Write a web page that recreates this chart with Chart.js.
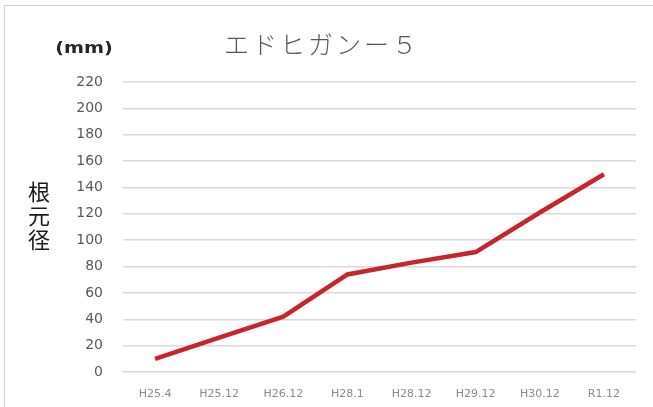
<!DOCTYPE html>
<html>
<head>
<meta charset="utf-8">
<script src="https://cdn.jsdelivr.net/npm/chart.js@4/dist/chart.umd.min.js"></script>
<style>
  html, body { margin: 0; padding: 0; background: #fff; }
  #wrap { width: 653px; height: 407px; position: relative; }
</style>
</head>
<body>
<div id="wrap"><canvas id="c" width="653" height="407"></canvas></div>
<script>
// 根元径の推移（エドヒガン No.5）
const categories = ['H25.4', 'H25.12', 'H26.12', 'H28.1', 'H28.12', 'H29.12', 'H30.12', 'R1.12'];
const diameters = [10, 26, 42, 74, 83, 91, 121, 150];
const yTicks = [0, 20, 40, 60, 80, 100, 120, 140, 160, 180, 200, 220];

const titleText = 'エドヒガンー５';
const unitText = '(mm)';
const axisText = ['根', '元', '径'];

// frame and headings drawn on the canvas
const decor = {
  id: 'decor',
  beforeDraw(chart) {
    const ctx = chart.ctx;
    ctx.save();
    ctx.strokeStyle = '#d0d0d0';
    ctx.lineWidth = 1;
    ctx.beginPath();
    ctx.moveTo(4.5, 407);
    ctx.lineTo(4.5, 5.5);
    ctx.lineTo(653, 5.5);
    ctx.stroke();
    ctx.restore();
  },
  afterDraw(chart) {
    const ctx = chart.ctx;
    ctx.save();
    ctx.textBaseline = 'middle';
    ctx.textAlign = 'center';
    ctx.fillStyle = '#5a5a5a';
    ctx.font = '300 25px "Noto Sans CJK JP"';
    ctx.letterSpacing = '3px';
    ctx.fillText(titleText, 322, 44);
    ctx.letterSpacing = '0px';
    ctx.fillStyle = '#262626';
    ctx.font = 'bold 16px "DejaVu Sans", sans-serif';
    ctx.save();
    ctx.translate(84, 49);
    ctx.scale(1.2, 1);
    ctx.fillText(unitText, 0, 0);
    ctx.restore();
    ctx.fillStyle = '#1a1a1a';
    ctx.font = '22px "Noto Sans CJK JP"';
    axisText.forEach((ch, i) => ctx.fillText(ch, 39, 192 + i * 24));
    ctx.restore();
  }
};

new Chart(document.getElementById('c'), {
  type: 'line',
  data: {
    labels: categories,
    datasets: [{
      data: diameters,
      borderColor: '#c9232b',
      borderWidth: 4.5,
      pointRadius: 0,
      tension: 0,
      fill: false
    }]
  },
  options: {
    responsive: false,
    animation: false,
    layout: { padding: { top: 82, right: 17, bottom: 0, left: 0 } },
    plugins: { legend: { display: false }, tooltip: { enabled: false }, title: { display: false } },
    scales: {
      x: {
        offset: true,
        grid: { display: false },
        border: { display: false },
        ticks: { color: '#8a8a8a', font: { size: 11, family: 'DejaVu Sans' }, padding: 8, maxRotation: 0, autoSkip: false },
        afterFit: s => { s.height = 35; }
      },
      y: {
        min: 0,
        max: 220,
        afterBuildTicks: s => { s.ticks = yTicks.map(v => ({ value: v })); },
        grid: { color: '#d9d9d9', lineWidth: 1.5, drawTicks: false },
        border: { display: false },
        ticks: { color: '#595959', font: { size: 14, family: 'DejaVu Sans' }, padding: 20 },
        afterFit: s => { s.width = 123; }
      }
    }
  },
  plugins: [decor]
});
</script>
</body>
</html>
